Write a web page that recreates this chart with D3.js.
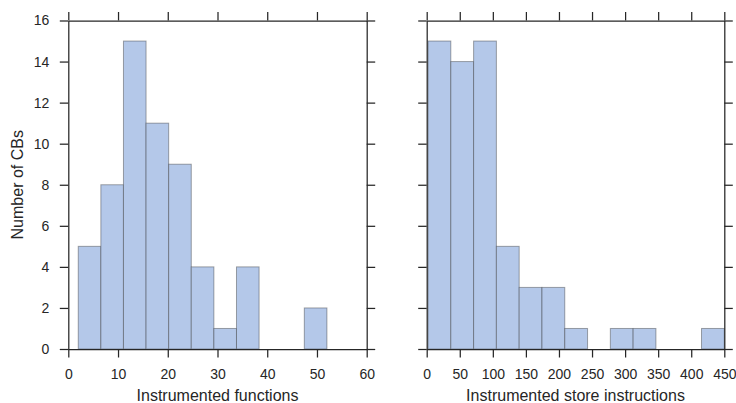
<!DOCTYPE html>
<html>
<head>
<meta charset="utf-8">
<script src="https://cdn.jsdelivr.net/npm/d3@7"></script>
<style>
  body { margin: 0; background: #fff; }
  svg { display: block; font-family: "Liberation Sans", Arial, sans-serif; }
</style>
</head>
<body>
<svg id="chart" width="736" height="403"></svg>
<script>
// histogram 1: instrumented functions (11 bins from 2 to 52)
const funcCounts = [5, 8, 15, 11, 9, 4, 1, 4, 0, 0, 2]
const funcRange = [2, 52]
const funcTicks = [0, 10, 20, 30, 40, 50, 60]

// histogram 2: instrumented store instructions (13 bins from 2 to 450)
const storeCounts = [15, 14, 15, 5, 3, 3, 1, 0, 1, 1, 0, 0, 1]
const storeRange = [2, 450]
const storeTicks = [0, 50, 100, 150, 200, 250, 300, 350, 400, 450]

const yTicks = [0, 2, 4, 6, 8, 10, 12, 14, 16]

let svg = d3.select('#chart'),
    plotTop = 20.5,
    plotBottom = 349,
    tick = 8.5,
    ink = '#262626'

let y = d3.scaleLinear().domain([0, 16]).range([plotBottom, plotTop])

function panel(left, right, counts, range, ticks, xmax, label, showY) {
    let x = d3.scaleLinear().domain([0, xmax]).range([left, right])
    let w = (range[1] - range[0]) / counts.length
    let bins = counts.map((c, i) => ({ x0: range[0] + i * w, x1: range[0] + (i + 1) * w, n: c }))
    let g = svg.append('g')

    g.selectAll('rect').data(bins.filter(b => b.n > 0)).join('rect')
        .attr('x', d => x(d.x0))
        .attr('y', d => y(d.n))
        .attr('width', d => x(d.x1) - x(d.x0))
        .attr('height', d => y(0) - y(d.n))
        .attr('fill', '#b4c8e9')
        .attr('stroke', 'rgba(40,40,40,0.4)')
        .attr('stroke-width', 1)

    let axes = [
        [d3.axisBottom(x).tickValues(ticks).tickPadding(11.5), `translate(0,${plotBottom})`],
        [d3.axisTop(x).tickValues(ticks).tickFormat(''), `translate(0,${plotTop})`],
        [d3.axisLeft(y).tickValues(yTicks).tickPadding(10.5)
            .tickFormat(showY ? d3.format('d') : ''), `translate(${left},0)`],
        [d3.axisRight(y).tickValues(yTicks).tickFormat(''), `translate(${right},0)`]
    ]
    axes.forEach(([ax, tr]) => {
        let a = g.append('g').attr('transform', tr)
            .call(ax.tickSize(tick).tickSizeOuter(0))
        a.select('.domain').attr('stroke', ink).attr('stroke-width', 1.25)
        a.selectAll('.tick line').attr('stroke', ink).attr('stroke-width', 1.25)
        a.selectAll('.tick text').attr('fill', ink).style('font-size', '14px')
    })

    g.append('text')
        .attr('x', (left + right) / 2)
        .attr('y', 400.5)
        .attr('text-anchor', 'middle')
        .attr('fill', ink)
        .style('font-size', '16px')
        .text(label)
}

panel(68.3, 366.7, funcCounts, funcRange, funcTicks, 60, 'Instrumented functions', true)
panel(426.7, 724.3, storeCounts, storeRange, storeTicks, 450, 'Instrumented store instructions', false)

svg.append('text')
    .attr('transform', `translate(23.3,${(plotTop + plotBottom) / 2}) rotate(-90)`)
    .attr('text-anchor', 'middle')
    .attr('fill', ink)
    .style('font-size', '16px')
    .text('Number of CBs')
</script>
</body>
</html>
